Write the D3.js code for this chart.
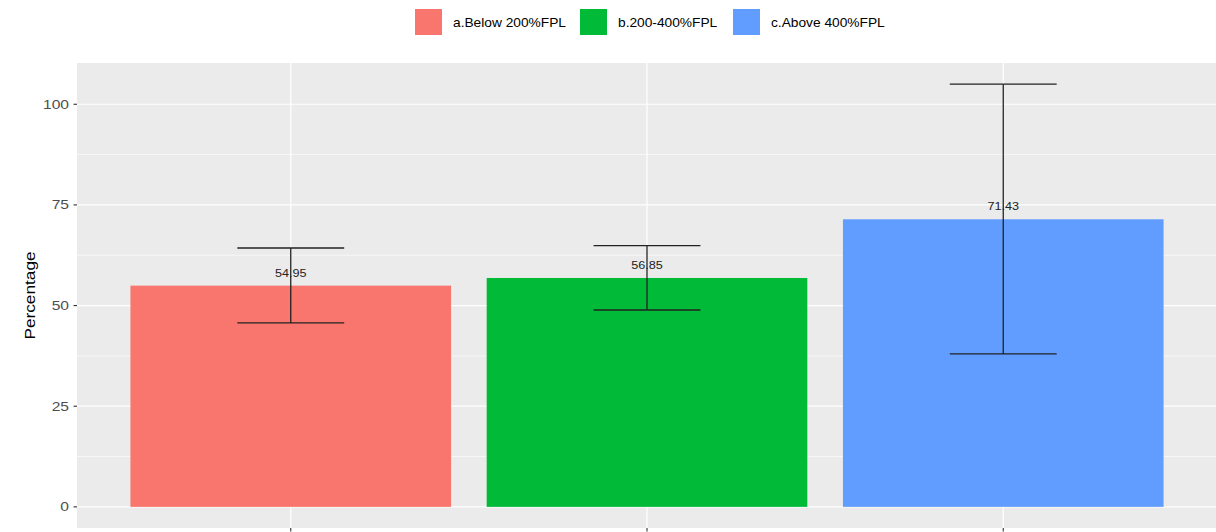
<!DOCTYPE html>
<html><head><meta charset="utf-8">
<script src="https://cdn.jsdelivr.net/npm/d3@7"></script>
<style>body{margin:0;background:#fff}svg{display:block}text{font-family:"Liberation Sans",Arial,sans-serif}</style>
</head><body><svg id="c" width="1216" height="532"></svg>
<script>
const categories = ["a.Below 200%FPL","b.200-400%FPL","c.Above 400%FPL"];
const values = [54.95, 56.85, 71.43];
const lower = [45.7, 48.9, 38.0];
const upper = [64.3, 64.9, 105.0];
const labels = ["54.95","56.85","71.43"];
const colors = ["#F8766D","#00BA38","#619CFF"];
const yTicks = [0,25,50,75,100];
const yMinor = [12.5,37.5,62.5,87.5];

const svg = d3.select("#c");
const L = 77, R = 1217, T = 63, B = 528;
// discrete expansion: 0.6 units each side
const step = (R-L)/(categories.length - 1 + 1.2);
const x = d3.scalePoint().domain(categories).range([L+0.6*step, R-0.6*step]);
const xc = c => x(c);
const y = d3.scaleLinear().domain([-5.25,110.25]).range([B,T]);

svg.append("rect").attr("x",L).attr("y",T).attr("width",R-L).attr("height",B-T).attr("fill","#EBEBEB");
svg.selectAll(".ymin").data(yMinor).join("line").attr("x1",L).attr("x2",R).attr("y1",d=>y(d)).attr("y2",d=>y(d)).attr("stroke","#fff").attr("stroke-width",0.6);
svg.selectAll(".ymaj").data(yTicks).join("line").attr("x1",L).attr("x2",R).attr("y1",d=>y(d)).attr("y2",d=>y(d)).attr("stroke","#fff").attr("stroke-width",1.2);
svg.selectAll(".xmaj").data(categories).join("line").attr("x1",d=>xc(d)).attr("x2",d=>xc(d)).attr("y1",T).attr("y2",B).attr("stroke","#fff").attr("stroke-width",1.2);

const bw = step*0.9, ew = step*0.3;
svg.selectAll(".bar").data(categories).join("rect")
  .attr("x",d=>xc(d)-bw/2).attr("width",bw)
  .attr("y",(d,i)=>y(values[i])).attr("height",(d,i)=>y(0)-y(values[i]))
  .attr("fill",(d,i)=>colors[i]);

const eg = svg.append("g").attr("stroke","#222").attr("stroke-width",1.3);
categories.forEach((c,i)=>{
  eg.append("line").attr("x1",xc(c)).attr("x2",xc(c)).attr("y1",y(lower[i])).attr("y2",y(upper[i]));
  eg.append("line").attr("x1",xc(c)-ew/2).attr("x2",xc(c)+ew/2).attr("y1",y(lower[i])).attr("y2",y(lower[i]));
  eg.append("line").attr("x1",xc(c)-ew/2).attr("x2",xc(c)+ew/2).attr("y1",y(upper[i])).attr("y2",y(upper[i]));
});
svg.selectAll(".lab").data(categories).join("text")
  .attr("transform",(d,i)=>`translate(${xc(d)},${y(values[i])-9}) scale(1.15,1)`)
  .attr("text-anchor","middle").attr("font-size",11).attr("fill","#222")
  .text((d,i)=>labels[i]);

// y axis
svg.selectAll(".yt").data(yTicks).join("line").attr("x1",L-3.5).attr("x2",L).attr("y1",d=>y(d)).attr("y2",d=>y(d)).attr("stroke","#333").attr("stroke-width",1.1);
svg.selectAll(".ytl").data(yTicks).join("text")
  .attr("transform",d=>`translate(${L-8},${y(d)+4.5}) scale(1.25,1)`)
  .attr("text-anchor","end").attr("font-size",12.5).attr("fill","#4D4D4D").text(d=>d);
svg.selectAll(".xt").data(categories).join("line").attr("x1",d=>xc(d)).attr("x2",d=>xc(d)).attr("y1",B).attr("y2",B+3.5).attr("stroke","#333").attr("stroke-width",1.1);
svg.append("text").attr("transform",`translate(35,${(T+B)/2}) rotate(-90) scale(1.15,1)`)
  .attr("text-anchor","middle").attr("font-size",15).attr("fill","#000").text("Percentage");

// legend
const legX = [415,580,733];
const lg = svg.selectAll(".leg").data(categories).join("g").attr("transform",(d,i)=>`translate(${legX[i]},9)`);
lg.append("rect").attr("width",27).attr("height",26).attr("fill",(d,i)=>colors[i]);
lg.append("text").attr("transform","translate(38,18) scale(1.1,1)").attr("font-size",12.5).attr("fill","#000").text(d=>d);
</script></body></html>
